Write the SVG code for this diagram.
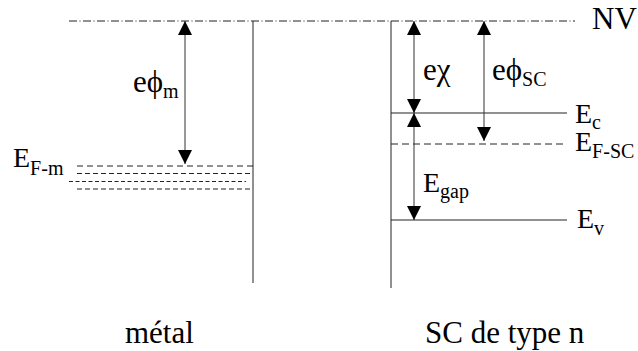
<svg xmlns="http://www.w3.org/2000/svg" width="638" height="351" viewBox="0 0 638 351" font-family="'Liberation Serif', 'Times New Roman', serif">
<style>
text{font-family:"Liberation Serif","Times New Roman",serif;fill:#000}
.big{font-size:31px}
.e{font-size:28px}
.sub{font-size:20px}
.ln{stroke:#222;stroke-width:1;fill:none}
.dd{stroke:#222;stroke-width:1;fill:none;stroke-dasharray:8 2.5 1 2.5}
.ar{stroke:#333;stroke-width:1;fill:none}
</style>
<defs>
<marker id="ah" viewBox="0 0 14 14" refX="14" refY="7" markerWidth="14" markerHeight="14" markerUnits="userSpaceOnUse" orient="auto-start-reverse">
<path d="M0,0 L14,7 L0,14 Z" fill="#000"/>
</marker>
</defs>
<rect width="638" height="351" fill="#fff"/>
<g id="vacuum-level">
<line class="dd" x1="69" y1="21" x2="575" y2="21"/>
<text class="big" x="592" y="29">NV</text>
</g>
<g id="metal">
<line class="ln" x1="253" y1="21" x2="253" y2="283"/>
<line class="ln" x1="77" y1="166" x2="253" y2="166" stroke-dasharray="6 4"/>
<line class="ln" x1="77" y1="173.5" x2="253" y2="173.5" stroke-dasharray="5 3"/>
<line class="ln" x1="69" y1="181.5" x2="246" y2="181.5" stroke-dasharray="4 2.5"/>
<line class="ln" x1="77" y1="189" x2="253" y2="189" stroke-dasharray="5 3"/>
<text class="e" x="13" y="167">E<tspan class="sub" dy="8">F-m</tspan></text>
<text class="big" x="125" y="343">métal</text>
</g>
<g id="semiconductor">
<line class="ln" x1="391" y1="21" x2="391" y2="288"/>
<line class="ln" x1="391" y1="113" x2="567" y2="113"/>
<line class="ln" x1="391" y1="144" x2="567" y2="144" stroke-dasharray="7 4"/>
<line class="ln" x1="391" y1="220" x2="567" y2="220"/>
<text class="e" x="575" y="123">E<tspan class="sub" dy="6">c</tspan></text>
<text class="e" x="575" y="151">E<tspan class="sub" dy="7">F-SC</tspan></text>
<text class="e" x="577" y="228">E<tspan class="sub" dy="7">v</tspan></text>
<text class="big" x="425" y="343">SC de type n</text>
</g>
<g id="connectors">
<line class="ar" x1="185" y1="21" x2="185" y2="164" marker-start="url(#ah)" marker-end="url(#ah)"/>
<line class="ar" x1="414" y1="21" x2="414" y2="113" marker-start="url(#ah)" marker-end="url(#ah)"/>
<line class="ar" x1="414" y1="113" x2="414" y2="220" marker-start="url(#ah)" marker-end="url(#ah)"/>
<line class="ar" x1="484" y1="21" x2="484" y2="141" marker-start="url(#ah)" marker-end="url(#ah)"/>
</g>
<g id="labels">
<text class="big" x="133" y="92">eϕ<tspan class="sub" dy="6">m</tspan></text>
<text class="big" x="423" y="80">eχ</text>
<text class="big" x="492" y="80">eϕ<tspan class="sub" dy="6">SC</tspan></text>
<text class="e" x="423" y="192">E<tspan class="sub" dy="6">gap</tspan></text>
</g>
</svg>
